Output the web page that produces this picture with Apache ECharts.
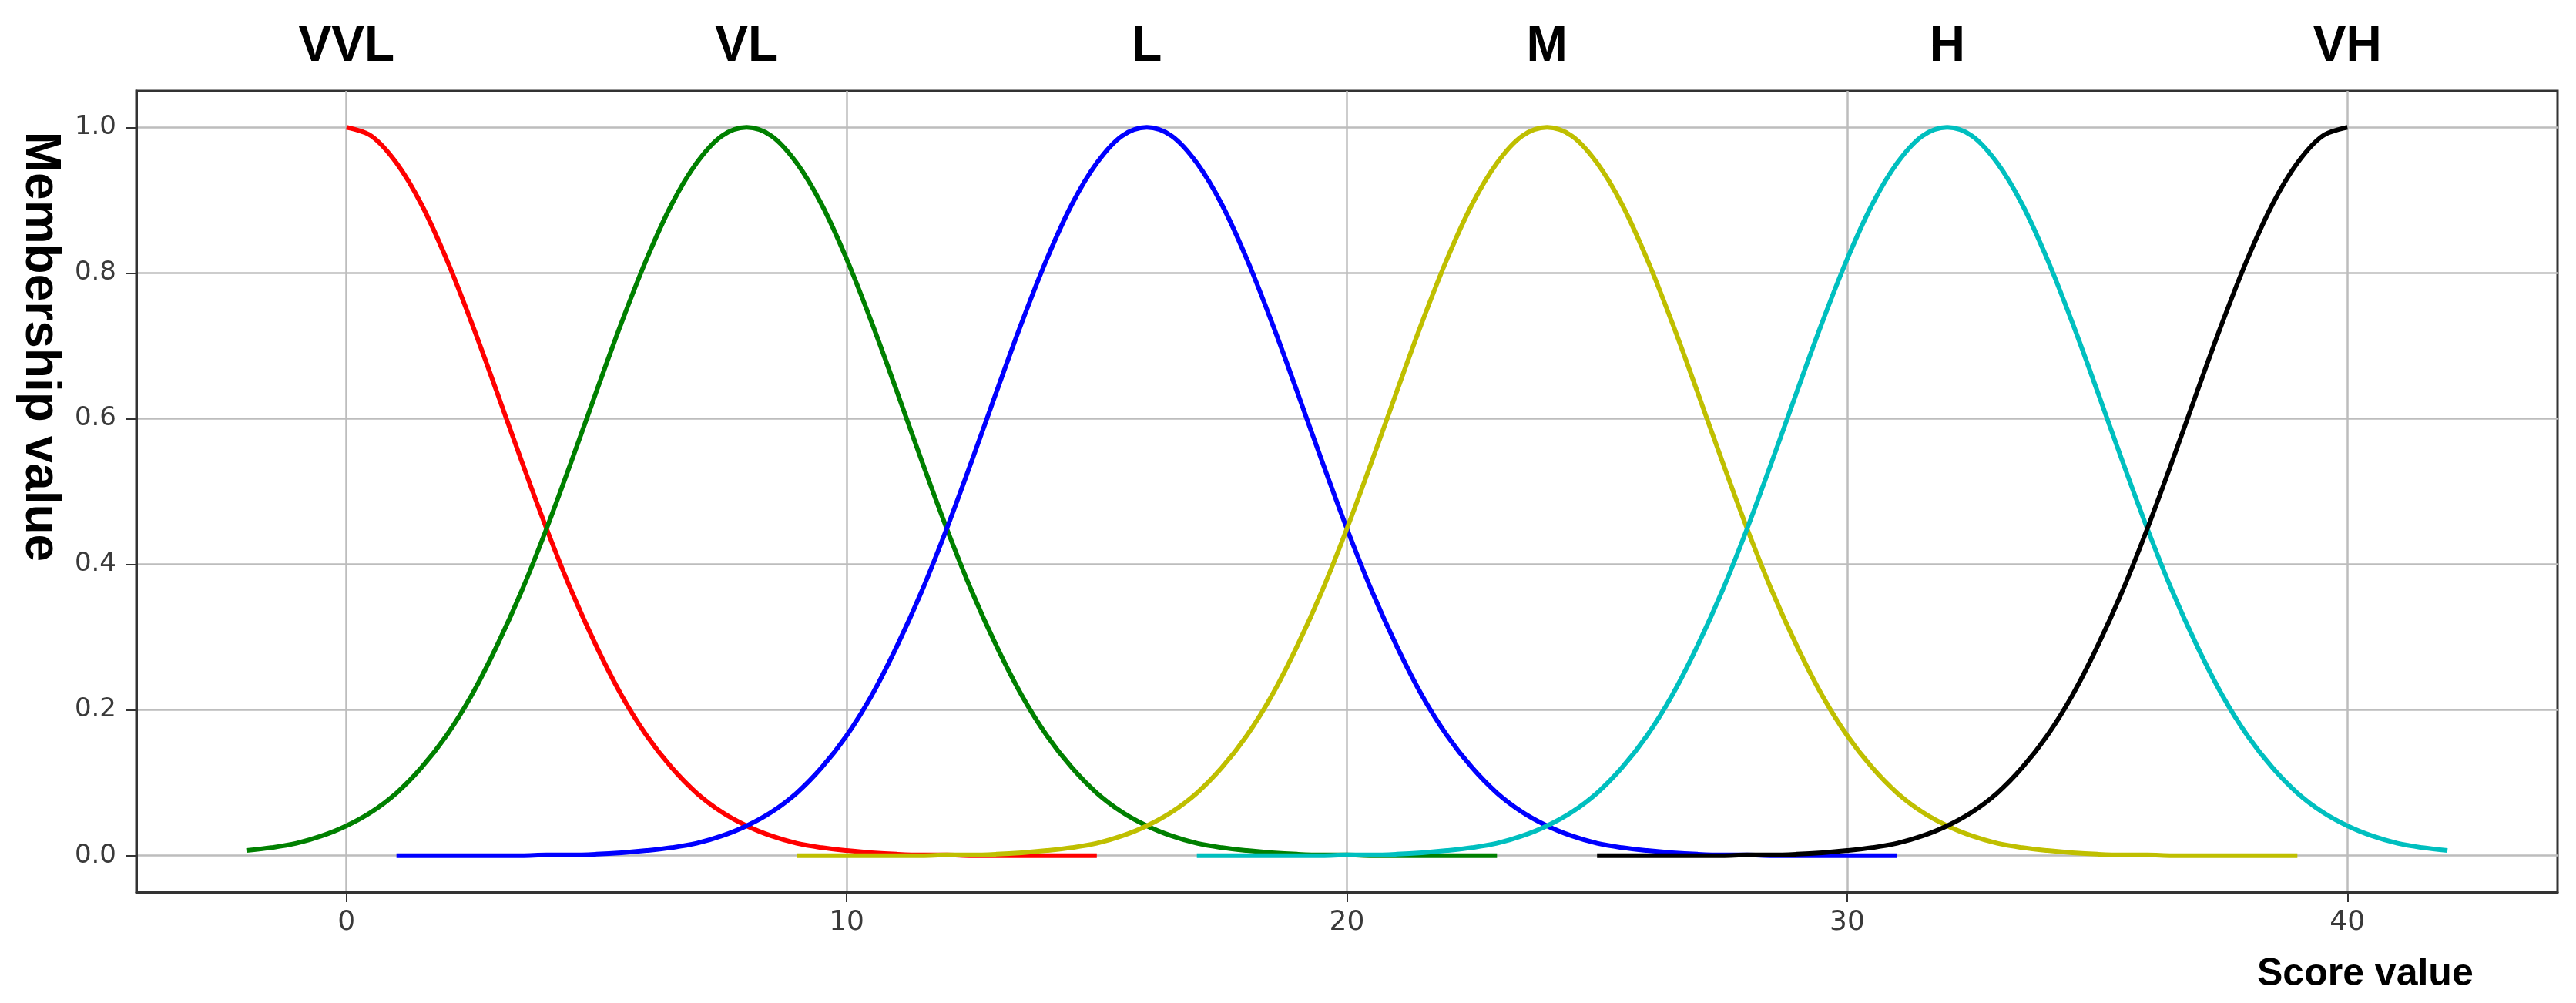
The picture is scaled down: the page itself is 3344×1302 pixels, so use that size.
<!DOCTYPE html>
<html><head><meta charset="utf-8">
<script src="https://cdn.jsdelivr.net/npm/echarts@6/dist/echarts.min.js"></script>
<style>html,body{margin:0;padding:0;background:#fff}#c{width:3344px;height:1302px}</style>
</head><body><div id="c"></div><script>
// Score values (x) shared by all membership curves
const scoreX = [-2,-1.5,-1,-0.5,0,0.5,1,1.5,2,2.5,3,3.5,4,4.5,5,5.5,6,6.5,7,7.5,8,8.5,9,9.5,10,10.5,11,11.5,12,12.5,13,13.5,14,14.5,15,15.5,16,16.5,17,17.5,18,18.5,19,19.5,20,20.5,21,21.5,22,22.5,23,23.5,24,24.5,25,25.5,26,26.5,27,27.5,28,28.5,29,29.5,30,30.5,31,31.5,32,32.5,33,33.5,34,34.5,35,35.5,36,36.5,37,37.5,38,38.5,39,39.5,40,40.5,41,41.5,42];
const setNames = ['VVL','VL','L','M','H','VH'];
const setCenters = [0,8,16,24,32,40];
const xTicks = [0,10,20,30,40];
const yTicks = [0,0.2,0.4,0.6,0.8,1.0];
const _ = null;
// membership values, aligned with scoreX (null = curve not drawn there)
const vvl = [_,_,_,_,
  1.000,0.988,0.951,0.894,0.819,0.732,0.638,0.542,0.449,0.363,0.287,0.220,0.165,0.121,0.086,0.060,0.041,0.027,0.017,0.011,0.007,0.004,0.002,0.001,0.001,0.000,0.000,0.000,0.000,0.000,0.000,
  _,_,_,_,_,_,_,_,_,_, _,_,_,_,_,_,_,_,_,_, _,_,_,_,_,_,_,_,_,_, _,_,_,_,_,_,_,_,_,_, _,_,_,_,_,_,_,_,_,_, _,_,_,_];
const vl = [
  0.007,0.011,0.017,0.027,0.041,0.060,0.086,0.121,0.165,0.220,0.287,0.363,0.449,0.542,0.638,0.732,0.819,0.894,0.951,0.988,
  1.000,0.988,0.951,0.894,0.819,0.732,0.638,0.542,0.449,0.363,0.287,0.220,0.165,0.121,0.086,0.060,0.041,0.027,0.017,0.011,0.007,0.004,0.002,0.001,0.001,0.000,0.000,0.000,0.000,0.000,0.000,
  _,_,_,_,_,_,_,_,_,_, _,_,_,_,_,_,_,_,_,_, _,_,_,_,_,_,_,_,_,_, _,_,_,_,_,_,_,_];
const lo = [_,_,_,_,_,_,
  0.000,0.000,0.000,0.000,0.000,0.000,0.001,0.001,0.002,0.004,0.007,0.011,0.017,0.027,0.041,0.060,0.086,0.121,0.165,0.220,0.287,0.363,0.449,0.542,0.638,0.732,0.819,0.894,0.951,0.988,
  1.000,0.988,0.951,0.894,0.819,0.732,0.638,0.542,0.449,0.363,0.287,0.220,0.165,0.121,0.086,0.060,0.041,0.027,0.017,0.011,0.007,0.004,0.002,0.001,0.001,0.000,0.000,0.000,0.000,0.000,0.000,
  _,_,_,_,_,_,_,_,_,_, _,_,_,_,_,_,_,_,_,_, _,_];
const med = [_,_,_,_,_,_,_,_,_,_, _,_,_,_,_,_,_,_,_,_, _,_,
  0.000,0.000,0.000,0.000,0.000,0.000,0.001,0.001,0.002,0.004,0.007,0.011,0.017,0.027,0.041,0.060,0.086,0.121,0.165,0.220,0.287,0.363,0.449,0.542,0.638,0.732,0.819,0.894,0.951,0.988,
  1.000,0.988,0.951,0.894,0.819,0.732,0.638,0.542,0.449,0.363,0.287,0.220,0.165,0.121,0.086,0.060,0.041,0.027,0.017,0.011,0.007,0.004,0.002,0.001,0.001,0.000,0.000,0.000,0.000,0.000,0.000,
  _,_,_,_,_,_];
const hi = [_,_,_,_,_,_,_,_,_,_, _,_,_,_,_,_,_,_,_,_, _,_,_,_,_,_,_,_,_,_, _,_,_,_,_,_,_,_,
  0.000,0.000,0.000,0.000,0.000,0.000,0.001,0.001,0.002,0.004,0.007,0.011,0.017,0.027,0.041,0.060,0.086,0.121,0.165,0.220,0.287,0.363,0.449,0.542,0.638,0.732,0.819,0.894,0.951,0.988,
  1.000,0.988,0.951,0.894,0.819,0.732,0.638,0.542,0.449,0.363,0.287,0.220,0.165,0.121,0.086,0.060,0.041,0.027,0.017,0.011,0.007];
const vh = [_,_,_,_,_,_,_,_,_,_, _,_,_,_,_,_,_,_,_,_, _,_,_,_,_,_,_,_,_,_, _,_,_,_,_,_,_,_,_,_, _,_,_,_,_,_,_,_,_,_, _,_,_,_,
  0.000,0.000,0.000,0.000,0.000,0.000,0.001,0.001,0.002,0.004,0.007,0.011,0.017,0.027,0.041,0.060,0.086,0.121,0.165,0.220,0.287,0.363,0.449,0.542,0.638,0.732,0.819,0.894,0.951,0.988,1.000,
  _,_,_,_];
const curves = [vvl, vl, lo, med, hi, vh];
const colors = ['#ff0000','#008000','#0000ff','#bfbf00','#00bfbf','#000000'];

const chart = echarts.init(document.getElementById('c'), null, {renderer:'canvas'});
const lineSeries = curves.map((arr, k) => ({
  type: 'line',
  name: setNames[k],
  data: scoreX.map((x, i) => [x, arr[i]]).filter(p => p[1] !== null && p[1] !== undefined),
  showSymbol: false,
  smooth: 0.35,
  lineStyle: { width: 6, color: colors[k], cap: 'butt', join: 'round' },
  itemStyle: { color: colors[k] },
  z: 3 + k
}));
const labelSeries = {
  type: 'scatter',
  clip: false,
  silent: true,
  symbolSize: 0,
  itemStyle: { color: '#000', opacity: 1 },
  data: setCenters.map((x, i) => ({ value: [x, 1.11], name: setNames[i] })),
  label: {
    show: true, position: 'inside', formatter: '{b}', opacity: 1,
    textBorderWidth: 0, textShadowBlur: 0,
    fontFamily: 'Liberation Sans, Arial, sans-serif', fontWeight: 'bold', fontSize: 64, color: '#000000'
  },
  z: 10
};
const tickFont = { fontFamily: 'DejaVu Sans, sans-serif', color: '#3a3a3a' };
chart.setOption({
  animation: false,
  backgroundColor: '#fff',
  grid: { left: 177, right: 24, top: 118, bottom: 144, show: true, borderColor: '#333', borderWidth: 3, backgroundColor: 'transparent' },
  xAxis: {
    type: 'value', min: -4.2, max: 44.2,
    axisLine: { show: true, onZero: false, lineStyle: { color: '#333', width: 3 } },
    axisTick: { show: true, customValues: xTicks, length: 13, lineStyle: { color: '#333', width: 2 } },
    axisLabel: Object.assign({ customValues: xTicks, fontSize: 36, margin: 22, formatter: v => String(v) }, tickFont),
    splitLine: { show: true, lineStyle: { color: '#bdbdbd', width: 2.5 } }
  },
  yAxis: {
    type: 'value', min: -0.05, max: 1.05,
    axisLine: { show: true, onZero: false, lineStyle: { color: '#333', width: 3 } },
    axisTick: { show: true, customValues: yTicks, length: 13, lineStyle: { color: '#333', width: 2 } },
    axisLabel: Object.assign({ customValues: yTicks, fontSize: 34, margin: 26, formatter: v => v.toFixed(1) }, tickFont),
    splitLine: { show: true, lineStyle: { color: '#bdbdbd', width: 2.5 } }
  },
  graphic: [
    { type: 'text', left: 2930, top: 1240, style: { text: 'Score value', fontFamily: 'Liberation Sans, Arial, sans-serif', fontWeight: 'bold', fontSize: 50, fill: '#000' } },
    { type: 'text', x: 52, y: 450, rotation: -Math.PI / 2,
      style: { text: 'Membership value', fontFamily: 'Liberation Sans, Arial, sans-serif', fontWeight: 'bold', fontSize: 64, fill: '#000', align: 'center', verticalAlign: 'middle' } }
  ],
  series: lineSeries.concat([labelSeries])
});
</script></body></html>
